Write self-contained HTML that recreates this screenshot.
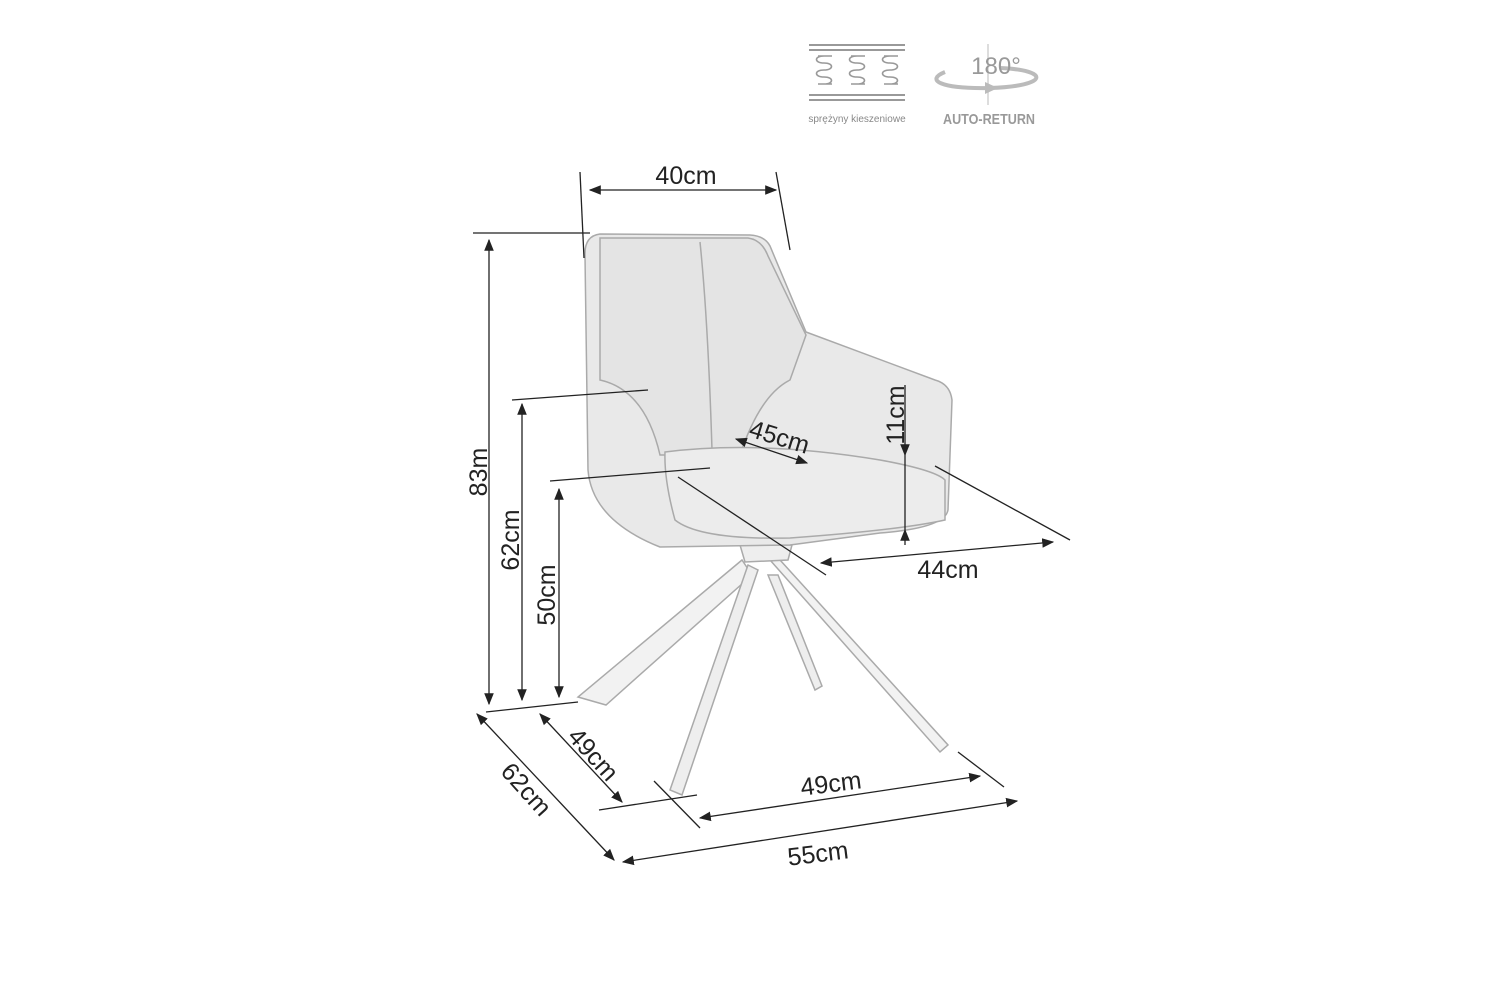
<!DOCTYPE html>
<html><head><meta charset="utf-8"><style>
html,body{margin:0;padding:0;background:#fff;}
svg{display:block;}
text{font-family:"Liberation Sans",sans-serif;fill:#222;}
</style></head><body>
<svg width="1500" height="1000" viewBox="0 0 1500 1000" xmlns="http://www.w3.org/2000/svg">
<defs>
<marker id="a" viewBox="0 0 10 10" refX="9" refY="5" markerWidth="12" markerHeight="12" markerUnits="userSpaceOnUse" orient="auto-start-reverse"><path d="M0,1 L10,5 L0,9 Z" fill="#222"/></marker>
</defs>

<!-- icons -->
<g stroke="#999" stroke-width="2" fill="none">
<line x1="809" y1="45" x2="905" y2="45"/><line x1="809" y1="50" x2="905" y2="50"/>
<line x1="809" y1="95" x2="905" y2="95"/><line x1="809" y1="100" x2="905" y2="100"/>
<g stroke-width="1.6">
<path d="M824,56 c-10,0 -10,7 0,7 c10,0 10,7 0,7 c-10,0 -10,7 0,7 c10,0 10,7 0,7 M818,56 h14 M818,84 h14"/>
<path d="M857,56 c-10,0 -10,7 0,7 c10,0 10,7 0,7 c-10,0 -10,7 0,7 c10,0 10,7 0,7 M851,56 h14 M851,84 h14"/>
<path d="M890,56 c-10,0 -10,7 0,7 c10,0 10,7 0,7 c-10,0 -10,7 0,7 c10,0 10,7 0,7 M884,56 h14 M884,84 h14"/>
</g>
</g>
<text x="857" y="122" font-size="10" text-anchor="middle" style="fill:#888">sprężyny kieszeniowe</text>
<line x1="988" y1="44" x2="988" y2="105" stroke="#ddd" stroke-width="2"/>
<path d="M1000,68 C1050,70 1050,86 990,88 C940,89 925,80 945,72" fill="none" stroke="#bbb" stroke-width="4"/>
<path d="M985,82 L998,88 L985,94 Z" fill="#bbb"/>
<text x="996" y="74" font-size="24" text-anchor="middle" style="fill:#999">180°</text>
<text x="989" y="124" font-size="15" font-weight="bold" text-anchor="middle" style="fill:#999" textLength="92" lengthAdjust="spacingAndGlyphs">AUTO-RETURN</text>

<!-- chair -->
<g stroke="#aaa" stroke-width="1.5">
<path d="M742,560 L578,697 L606,705 L752,575 Z" fill="#f2f2f2"/>
<path d="M768,575 L815,690 L822,686 L778,575 Z" fill="#eee"/>
<path d="M770,560 L940,752 L948,745 L780,560 Z" fill="#f2f2f2"/>
<path d="M748,565 L670,790 L682,795 L758,570 Z" fill="#eee"/>
<path d="M740,545 L792,545 L788,560 L745,562 Z" fill="#eee"/>
<path d="M600,234 Q584,236 585,256 L588,470 Q592,520 660,547 L790,545 L880,533 Q945,528 948,510 L952,400 Q950,384 935,380 L806,332 L770,246 Q765,236 750,235 Z" fill="#e9e9e9"/>
<path d="M600,238 L748,238 Q762,240 768,256 L806,335 L790,380 Q760,395 740,455 L660,455 Q645,390 600,380 Z" fill="#e4e4e4"/>
<path d="M700,242 Q708,320 712,450" fill="none"/>
<path d="M665,452 Q760,440 880,460 Q935,470 945,480 L945,520 Q900,530 790,538 Q700,540 675,520 Q664,480 665,452 Z" fill="#ececec"/>
</g>

<!-- dimension lines -->
<g stroke="#222" stroke-width="1.3" fill="none">
<line x1="580" y1="172" x2="584" y2="258"/>
<line x1="776" y1="172" x2="790" y2="250"/>
<line x1="590" y1="190" x2="776" y2="190" marker-start="url(#a)" marker-end="url(#a)"/>
<line x1="473" y1="233" x2="590" y2="233"/>
<line x1="489" y1="240" x2="489" y2="704" marker-start="url(#a)" marker-end="url(#a)"/>
<line x1="512" y1="400" x2="648" y2="390"/>
<line x1="522" y1="404" x2="522" y2="700" marker-start="url(#a)" marker-end="url(#a)"/>
<line x1="550" y1="481" x2="710" y2="468"/>
<line x1="559" y1="489" x2="559" y2="697" marker-start="url(#a)" marker-end="url(#a)"/>
<line x1="486" y1="712" x2="578" y2="702"/>
<line x1="477" y1="714" x2="614" y2="860" marker-start="url(#a)" marker-end="url(#a)"/>
<line x1="540" y1="714" x2="622" y2="802" marker-start="url(#a)" marker-end="url(#a)"/>
<line x1="599" y1="810" x2="697" y2="795"/>
<line x1="654" y1="781" x2="700" y2="828"/>
<line x1="700" y1="818" x2="980" y2="776" marker-start="url(#a)" marker-end="url(#a)"/>
<line x1="958" y1="752" x2="1004" y2="787"/>
<line x1="623" y1="862" x2="1017" y2="801" marker-start="url(#a)" marker-end="url(#a)"/>
<line x1="678" y1="477" x2="826" y2="575"/>
<line x1="935" y1="466" x2="1070" y2="540"/>
<line x1="821" y1="563" x2="1053" y2="542" marker-start="url(#a)" marker-end="url(#a)"/>
<line x1="905" y1="385" x2="905" y2="455" marker-end="url(#a)"/>
<line x1="905" y1="455" x2="905" y2="530"/>
<line x1="905" y1="545" x2="905" y2="530" marker-end="url(#a)"/>
<line x1="736" y1="439" x2="807" y2="463" marker-start="url(#a)" marker-end="url(#a)"/>
</g>

<g font-size="25">
<text x="686" y="184" text-anchor="middle">40cm</text>
<text transform="translate(487,472) rotate(-90)" text-anchor="middle">83m</text>
<text transform="translate(519,540) rotate(-90)" text-anchor="middle">62cm</text>
<text transform="translate(555,595) rotate(-90)" text-anchor="middle">50cm</text>
<text transform="translate(904,415) rotate(-90)" text-anchor="middle">11cm</text>
<text transform="translate(777,445) rotate(17)" text-anchor="middle">45cm</text>
<text x="948" y="578" text-anchor="middle">44cm</text>
<text transform="translate(520,795) rotate(48)" text-anchor="middle">62cm</text>
<text transform="translate(587,760) rotate(48)" text-anchor="middle">49cm</text>
<text transform="translate(832,792) rotate(-7)" text-anchor="middle">49cm</text>
<text transform="translate(819,862) rotate(-7)" text-anchor="middle">55cm</text>
</g>
</svg>
</body></html>
